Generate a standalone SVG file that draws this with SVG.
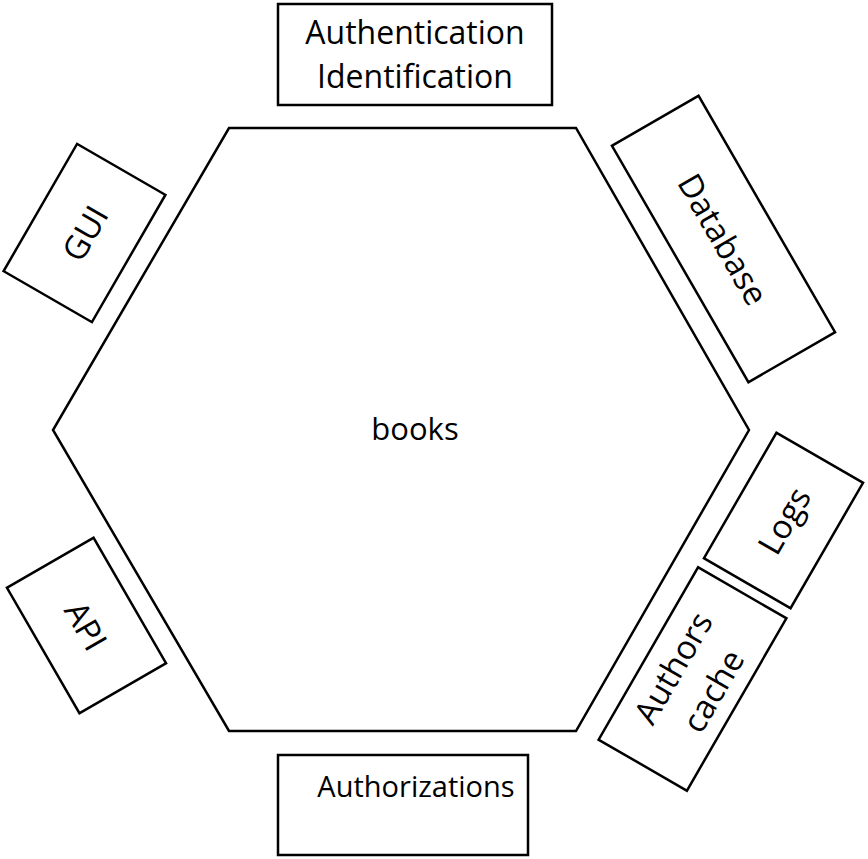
<svg xmlns="http://www.w3.org/2000/svg" width="868" height="859" viewBox="0 0 868 859">
  <style>
    .box { fill: #ffffff; stroke: #000000; stroke-width: 2.5; }
    .hex { fill: #ffffff; stroke: #000000; stroke-width: 2.5; }
    .lbl { font-family: "Open Sans", Lato, "Liberation Sans", sans-serif; font-size: 33px; fill: #000000; text-anchor: middle; dominant-baseline: central; }
  </style>
  <rect x="0" y="0" width="868" height="859" fill="#ffffff"/>

  <!-- core hexagon -->
  <g id="books">
    <polygon class="hex" points="229,128 576,128 749,430 576,731 229,731 53,430"/>
    <text class="lbl" x="415" y="428" style="font-size:31px">books</text>
  </g>

  <g id="authentication">
    <rect class="box" x="278" y="4" width="274" height="101"/>
    <text class="lbl" x="415" y="31" style="font-size:32px">Authentication</text>
    <text class="lbl" x="415" y="75" style="font-size:32px">Identification</text>
  </g>

  <g id="authorizations">
    <rect class="box" x="278" y="755" width="250" height="100"/>
    <text class="lbl" x="416" y="785" style="font-size:29px">Authorizations</text>
  </g>

  <g id="gui" transform="translate(84.5,233) rotate(30)">
    <rect class="box" x="-51" y="-73.5" width="102" height="147"/>
    <text class="lbl" transform="rotate(-90)" x="0" y="0">GUI</text>
  </g>

  <g id="database" transform="translate(723.5,239) rotate(-30)">
    <rect class="box" x="-50" y="-136.5" width="100" height="273"/>
    <text class="lbl" transform="rotate(90)" x="0" y="0">Database</text>
  </g>

  <g id="logs" transform="translate(783.5,520.5) rotate(30)">
    <rect class="box" x="-50" y="-72.5" width="100" height="145"/>
    <text class="lbl" transform="rotate(-90)" x="0" y="0">Logs</text>
  </g>

  <g id="authors-cache" transform="translate(692.5,679) rotate(30)">
    <rect class="box" x="-51" y="-99.5" width="102" height="199"/>
    <text class="lbl" transform="rotate(-90)" x="0" y="-23">Authors</text>
    <text class="lbl" transform="rotate(-90)" x="0" y="23">cache</text>
  </g>

  <g id="api" transform="translate(86.5,625.5) rotate(-30)">
    <rect class="box" x="-50" y="-72.5" width="100" height="145"/>
    <text class="lbl" transform="rotate(90)" x="0" y="0">API</text>
  </g>

  <g id="connectors"/>
</svg>
